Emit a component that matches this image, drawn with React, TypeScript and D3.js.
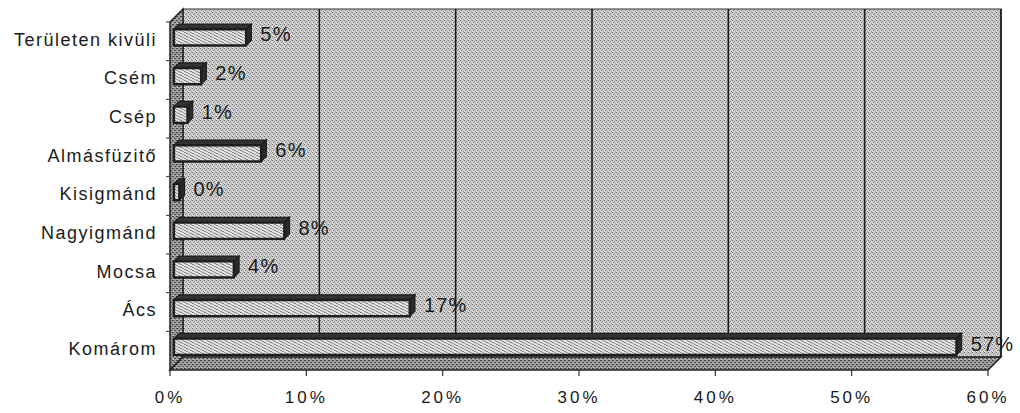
import React from 'react';
import * as d3 from 'd3';

const categories = ['Területen kivüli', 'Csém', 'Csép', 'Almásfüzitő', 'Kisigmánd', 'Nagyigmánd', 'Mocsa', 'Ács', 'Komárom'];
const values = [5.3, 2.0, 1.0, 6.4, 0.4, 8.1, 4.4, 17.3, 57.4];
const tickValues = [0, 10, 20, 30, 40, 50, 60];
const tickLabels = ['0%', '10%', '20%', '30%', '40%', '50%', '60%'];

const FONT = '"Liberation Sans", Arial, sans-serif';

export default function App() {
  const x = d3.scaleLinear().domain([0, 60]).range([170, 988]);
  const y = d3.scaleBand<string>().domain(categories).range([22, 370]).padding(0);
  const DX = 13, DY = 13;
  const p = (v: number, yy: number, d: number): [number, number] => [x(v) + d * DX, yy - d * DY];
  const poly = (pts: [number, number][]) => pts.map(q => q.join(',')).join(' ');
  const fmt = (v: number) => `${Math.round(v)}%`;

  const yTop = y.range()[0];
  const yBot = y.range()[1];
  const bh = y.bandwidth() * 0.42;
  const d0 = 0.3, d1 = 0.7;

  const wall = poly([p(0, yTop, 1), p(60, yTop, 1), p(60, yBot, 1), p(0, yBot, 1)]);
  const leftWall = poly([p(0, yTop, 0), p(0, yTop, 1), p(0, yBot, 1), p(0, yBot, 0)]);
  const floor = poly([p(0, yBot, 0), p(0, yBot, 1), p(60, yBot, 1), p(60, yBot, 0)]);

  return (
    <svg width={1020} height={413} style={{ position: 'absolute', left: 0, top: 0, background: '#fff' }}>
      <defs>
        <pattern id="wallPat" width={4} height={4} patternUnits="userSpaceOnUse">
          <rect width={4} height={4} fill="#d2d2d2" />
          <rect x={0} y={0} width={1} height={1} fill="#6e6e6e" />
          <rect x={2} y={1} width={1} height={1} fill="#8e8e8e" />
          <rect x={1} y={2} width={1} height={1} fill="#7e7e7e" />
          <rect x={3} y={3} width={1} height={1} fill="#9a9a9a" />
          <rect x={3} y={0} width={1} height={1} fill="#b4b4b4" />
          <rect x={0} y={3} width={1} height={1} fill="#e8e8e8" />
        </pattern>
        <pattern id="darkPat" width={4} height={4} patternUnits="userSpaceOnUse">
          <rect width={4} height={4} fill="#9a9a9a" />
          <rect x={0} y={0} width={2} height={1} fill="#444" />
          <rect x={2} y={2} width={2} height={1} fill="#555" />
          <rect x={1} y={3} width={1} height={1} fill="#ccc" />
        </pattern>
        <pattern id="barPat" width={6} height={3} patternUnits="userSpaceOnUse">
          <rect width={6} height={3} fill="#dedede" />
          <rect x={0} y={0} width={2} height={1} fill="#858585" />
          <rect x={2} y={1} width={2} height={1} fill="#a2a2a2" />
          <rect x={4} y={2} width={2} height={1} fill="#909090" />
        </pattern>
      </defs>

      {/* back wall */}
      <polygon points={wall} fill="url(#wallPat)" stroke="#333" strokeWidth={1.2} />
      {/* gridlines */}
      {tickValues.slice(1).map(t => {
        const a = p(t, yTop, 1), b = p(t, yBot, 1);
        return <line key={t} x1={a[0]} y1={a[1]} x2={b[0]} y2={b[1]} stroke="#1a1a1a" strokeWidth={1.6} />;
      })}
      {/* left wall & floor */}
      <polygon points={leftWall} fill="url(#darkPat)" stroke="#222" strokeWidth={1.5} />
      <polygon points={floor} fill="url(#darkPat)" stroke="#222" strokeWidth={1.5} />

      {/* category ticks on left edge */}
      {categories.map(c => {
        const yy = y(c) as number;
        return <line key={c} x1={166} x2={170} y1={yy} y2={yy} stroke="#333" strokeWidth={1} />;
      })}

      {/* bars */}
      {categories.map((c, i) => {
        const v = values[i];
        const yc = (y(c) as number) + y.bandwidth() / 2;
        const top = yc - bh / 2;
        const bot = yc + bh / 2;
        const front = poly([p(0, top, d0), p(v, top, d0), p(v, bot, d0), p(0, bot, d0)]);
        const topFace = poly([p(0, top, d0), p(v, top, d0), p(v, top, d1), p(0, top, d1)]);
        const endFace = poly([p(v, top, d0), p(v, top, d1), p(v, bot, d1), p(v, bot, d0)]);
        const lx = p(v, top, d1)[0] + 9;
        const ly = yc - d0 * DY - 3;
        return (
          <g key={c}>
            <polygon points={topFace} fill="#333" stroke="#1e1e1e" strokeWidth={1.2} />
            <polygon points={endFace} fill="#2a2a2a" stroke="#1e1e1e" strokeWidth={1.2} />
            <polygon points={front} fill="url(#barPat)" stroke="#1e1e1e" strokeWidth={2.4} strokeLinejoin="round" />
            <text x={lx} y={ly} dy="0.35em" fontFamily={FONT} fontSize={20} letterSpacing={1.2} fill="#1a1a1a">
              {fmt(v)}
            </text>
          </g>
        );
      })}

      {/* x ticks */}
      {tickValues.map((t, i) => (
        <g key={t}>
          <line x1={x(t)} x2={x(t)} y1={yBot} y2={yBot + 6} stroke="#333" strokeWidth={1.2} />
          <text x={x(t)} y={403} textAnchor="middle" fontFamily={FONT} fontSize={17} letterSpacing={3} fill="#1a1a1a">
            {tickLabels[i]}
          </text>
        </g>
      ))}

      {/* category labels */}
      {categories.map(c => (
        <text key={c} x={157} y={(y(c) as number) + y.bandwidth() / 2 - 2} dy="0.35em" textAnchor="end"
          fontFamily={FONT} fontSize={18} letterSpacing={1.5} fill="#1a1a1a">
          {c}
        </text>
      ))}
    </svg>
  );
}
